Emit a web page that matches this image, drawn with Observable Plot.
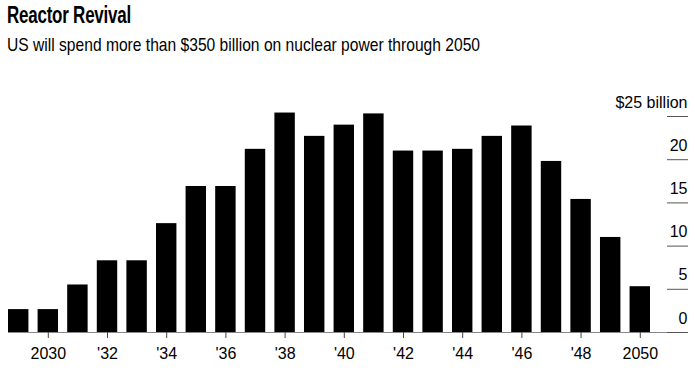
<!DOCTYPE html>
<html>
<head>
<meta charset="utf-8">
<script src="https://cdn.jsdelivr.net/npm/d3@7"></script>
<script src="https://cdn.jsdelivr.net/npm/@observablehq/plot@0.6"></script>
<style>
  html, body { margin: 0; padding: 0; background: #fff; }
  body { width: 695px; height: 375px; overflow: hidden; font-family: "Liberation Sans", Arial, Helvetica, sans-serif; }
  #header { position: relative; height: 70px; }
  #title { position: absolute; left: 7px; top: 1px; font-size: 24px; font-weight: bold; color: #000; white-space: nowrap; transform-origin: 0 0; letter-spacing: -0.3px; }
  #subtitle { position: absolute; left: 7px; top: 34px; font-size: 19px; color: #000; white-space: nowrap; transform-origin: 0 0; }
  #chart svg { display: block; }
</style>
</head>
<body>
<div id="header">
  <div id="title">Reactor Revival</div>
  <div id="subtitle">US will spend more than $350 billion on nuclear power through 2050</div>
</div>
<div id="chart"></div>
<script>
// Data
const years = [2029, 2030, 2031, 2032, 2033, 2034, 2035, 2036, 2037, 2038, 2039,
               2040, 2041, 2042, 2043, 2044, 2045, 2046, 2047, 2048, 2049, 2050];
const spending = [2.65, 2.65, 5.5, 8.3, 8.3, 12.6, 16.9, 16.9, 21.2, 25.4, 22.7,
                  24.0, 25.3, 21.0, 21.0, 21.2, 22.7, 23.9, 19.8, 15.4, 11.0, 5.3];
const xTicks = [2030, 2032, 2034, 2036, 2038, 2040, 2042, 2044, 2046, 2048, 2050];
const xTickLabels = ["2030", "'32", "'34", "'36", "'38", "'40", "'42", "'44", "'46", "'48", "2050"];
const yTicks = [0, 5, 10, 15, 20, 25];
const yTickLabels = ["0", "5", "10", "15", "20", "$25 billion"];

const data = years.map((y, i) => ({year: y, value: spending[i]}));

// fit header text widths to reference
function fit(id, target) {
  const el = document.getElementById(id);
  const w = el.getBoundingClientRect().width;
  el.style.transform = `scaleX(${target / w})`;
}
fit("title", 124);
fit("subtitle", 473);

const chart = Plot.plot({
  width: 695,
  height: 305,
  marginLeft: 8,
  marginRight: 45,
  marginTop: 46,
  marginBottom: 43,
  style: {fontFamily: "Liberation Sans, Arial, Helvetica, sans-serif", fontSize: "16px", color: "#000", background: "#fff"},
  x: {type: "band", domain: years, paddingInner: 0.31, paddingOuter: 0, round: false},
  y: {domain: [0, 25]},
  marks: [
    Plot.barY(data, {x: "year", y: "value", fill: "#000"}),
    Plot.ruleY([0], {stroke: "#888", strokeWidth: 1, insetRight: -37}),
    Plot.axisX({
      ticks: xTicks,
      tickFormat: d => xTickLabels[xTicks.indexOf(d)],
      tickSize: 6,
      tickPadding: 9,
      stroke: "#444",
      fontSize: 16,
      fill: "#000",
      label: null
    }),
    Plot.axisY({
      anchor: "right",
      ticks: yTicks,
      tickSize: 21,
      dx: 16,
      text: null,
      stroke: "#555",
      label: null
    }),
    Plot.axisY({
      anchor: "right",
      ticks: yTicks,
      tickSize: 0,
      tickPadding: 0,
      dx: 37,
      dy: -14,
      textAnchor: "end",
      tickFormat: d => yTickLabels[yTicks.indexOf(d)],
      fontSize: 16,
      fill: "#000",
      label: null
    })
  ]
});
document.getElementById("chart").appendChild(chart);
</script>
</body>
</html>
